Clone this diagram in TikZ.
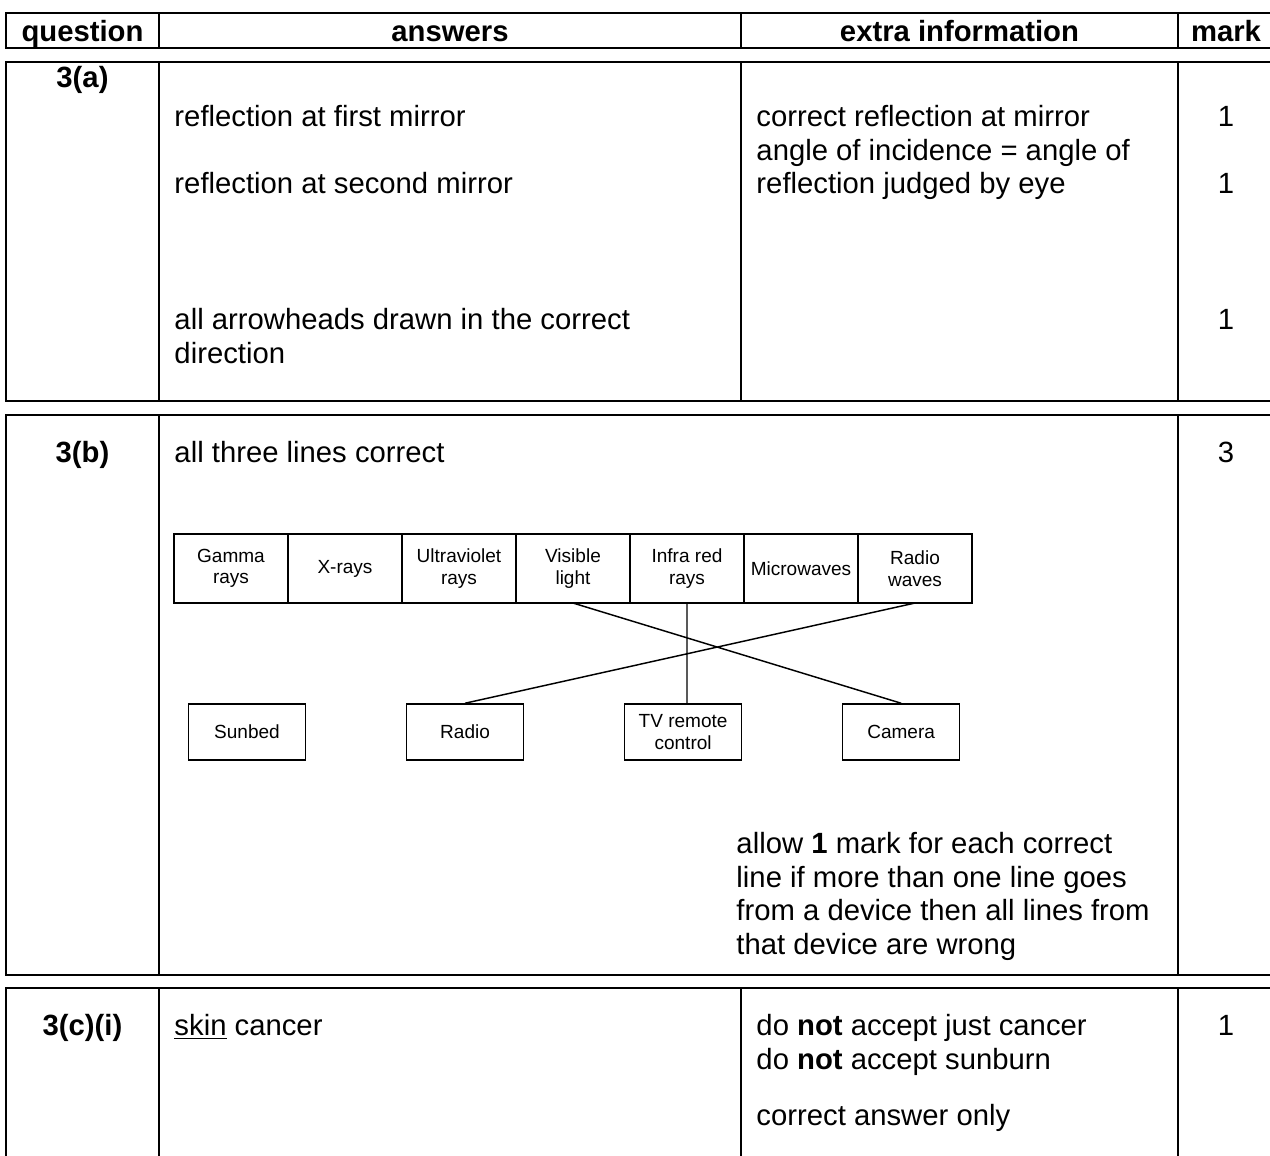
\documentclass[tikz,border=0pt]{standalone}
\usepackage{fontspec}
\setmainfont{Liberation Sans}
\usetikzlibrary{positioning}

\begin{document}
\begin{tikzpicture}[%
			x=0.41pt, y=-0.41pt,
			font=\fontsize{12}{13.75}\selectfont,
			node distance=0pt and 40.9pt,
			frame/.style={line width=0.9pt},
			txt/.style={anchor=base west, inner sep=0pt},
			para/.style={anchor=north west, inner sep=0pt, align=left},
			head/.style={anchor=base, inner sep=0pt, font=\fontsize{12}{13.75}\selectfont\bfseries},
			num/.style={anchor=base, inner sep=0pt},
			band/.style={%
				draw,
				line width=0.6pt,
				outer sep=0pt,
				minimum width=46.74pt,
				minimum height=28.3pt,
				inner sep=1pt,
				align=center,
				font=\fontsize{7.8}{8.8}\selectfont
			},
			device/.style={%
				draw,
				line width=0.6pt,
				minimum width=47.9pt,
				minimum height=23pt,
				inner sep=1pt,
				align=center,
				font=\fontsize{7.8}{8.8}\selectfont
			},
			link/.style={line width=0.6pt}
			]
			\clip (0,0) rectangle (1270,1155);
			% header row
			\draw[frame] (6,13) rectangle (1290,48);
			\draw[frame] (159,13) -- (159,48) (741,13) -- (741,48) (1178,13) -- (1178,48);
			\node[head] (hq) at (82.5,41) {question};
			\node[head] (ha) at (450,41) {answers};
			\node[head] (he) at (959.5,41) {extra information};
			\node[head] (hm) at (1226,41) {mark};
			
			% part (a)
			\draw[frame] (6,62) rectangle (1290,401);
			\draw[frame] (159,62) -- (159,401) (741,62) -- (741,401) (1178,62) -- (1178,401);
			\node[head] (qa) at (82.5,87) {3(a)};
			\node[txt] (a1) at (174,126) {reflection at first mirror};
			\node[txt] (a2) at (174,193) {reflection at second mirror};
			\node[para] (a3) at (174,308) {all arrowheads drawn in the correct\\direction};
			\node[para] (ea) at (756,105) {correct reflection at mirror\\angle of incidence = angle of\\reflection judged by eye};
			\node[num] (ma1) at (1226,126) {1};
			\node[num] (ma2) at (1226,193) {1};
			\node[num] (ma3) at (1226,329) {1};
			
			% part (b)
			\draw[frame] (6,415) rectangle (1290,975);
			\draw[frame] (159,415) -- (159,975) (1178,415) -- (1178,975);
			\node[head] (qb) at (82.5,462) {3(b)};
			\node[txt] (b1) at (174,462) {all three lines correct};
			\node[num] (mb) at (1226,462) {3};
			
			\node[band] (gam) at (231,568.5) {Gamma\\rays};
			\node[band] (xr) [right=0pt of gam] {X-rays};
			\node[band] (uv) [right=0pt of xr] {Ultraviolet\\rays};
			\node[band] (vis) [right=0pt of uv] {Visible\\light};
			\node[band] (ir) [right=0pt of vis] {Infra red\\rays};
			\node[band] (mw) [right=0pt of ir] {Microwaves};
			\node[band] (rw) [right=0pt of mw] {Radio\\waves};
			
			\node[device] (sun) at (247,732) {Sunbed};
			\node[device] (rad) [right=of sun] {Radio};
			\node[device] (tv) [right=of rad] {TV remote\\control};
			\node[device] (cam) [right=of tv] {Camera};
			
			\draw[link] (vis.south) -- (cam.north)
			(ir.south) -- (ir.south |- tv.north)
			(rw.south) -- (rad.north);
			
			\node[para] (eb) at (736,832) {allow \textbf{1} mark for each correct\\line if more than one line goes\\from a device then all lines from\\that device are wrong};
			
			% part (c)(i)
			\draw[frame] (6,988) rectangle (1290,1190);
			\draw[frame] (159,988) -- (159,1190) (741,988) -- (741,1190) (1178,988) -- (1178,1190);
			\node[head] (qc) at (82.5,1035) {3(c)(i)};
			\node[txt] (c1) at (174,1035) {\underline{skin} cancer};
			\node[para] (ec) at (756,1014) {do \textbf{not} accept just cancer\\do \textbf{not} accept sunburn};
			\node[txt] (ec2) at (756,1125) {correct answer only};
			\node[num] (mc) at (1226,1035) {1};
\end{tikzpicture}
\end{document}
